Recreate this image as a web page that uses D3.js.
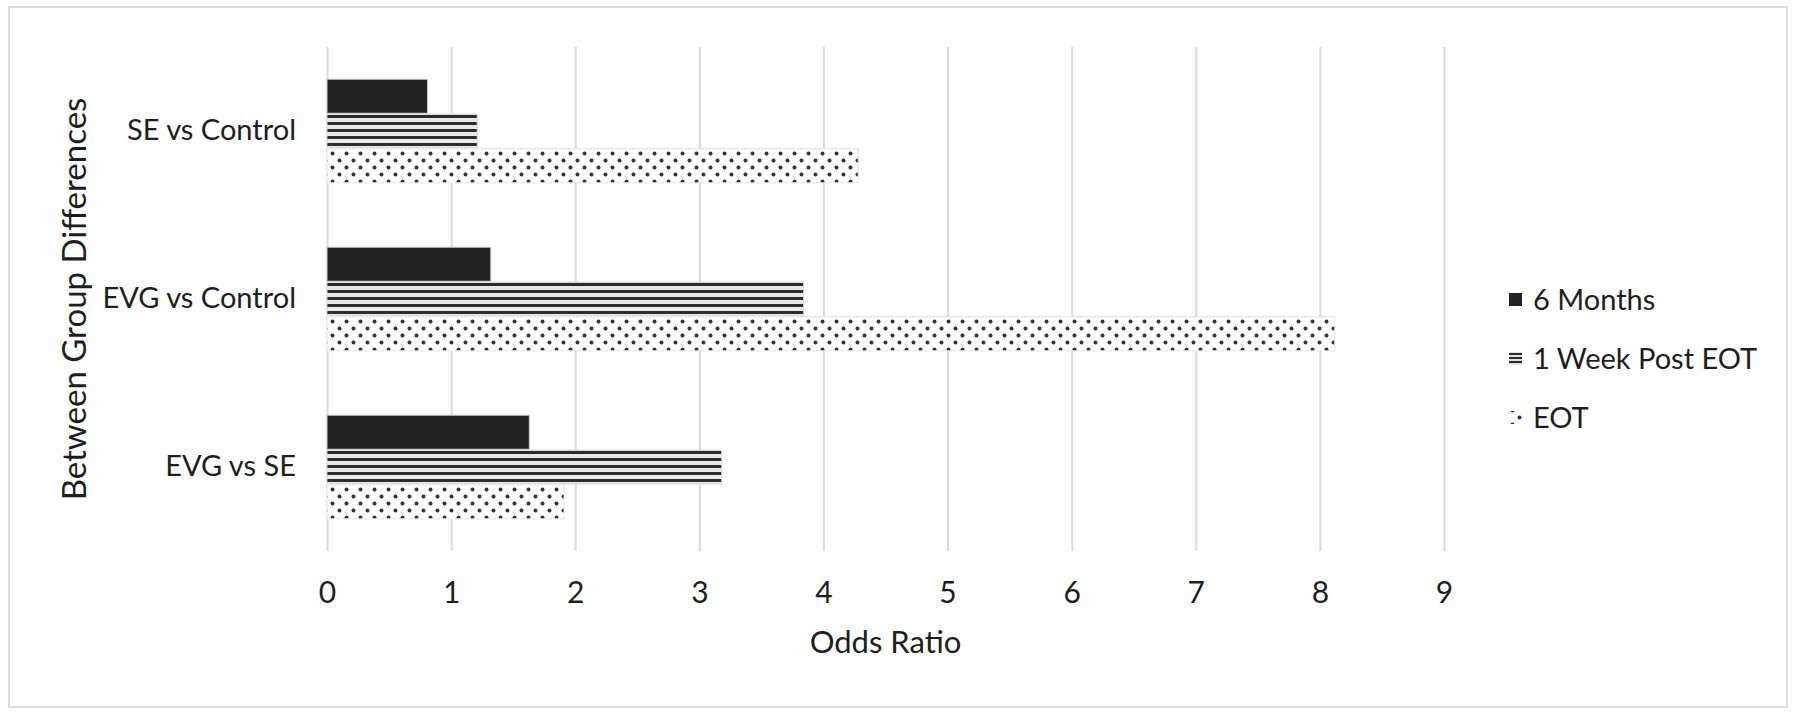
<!DOCTYPE html>
<html>
<head>
<meta charset="utf-8">
<script src="https://cdn.jsdelivr.net/npm/d3@7"></script>
<style>
  body { margin: 0; background: #fff; }
  svg text { font-family: Lato, "Open Sans", sans-serif; fill: #1e1e1e; }
</style>
</head>
<body>
<div id="chart"></div>
<script>
// values
const categories = ["SE vs Control", "EVG vs Control", "EVG vs SE"];
const seriesNames = ["6 Months", "1 Week Post EOT", "EOT"];
const sixMonths = [0.81, 1.32, 1.63];
const oneWeekPostEot = [1.21, 3.84, 3.18];
const eot = [4.28, 8.12, 1.91];
const xTicks = [0, 1, 2, 3, 4, 5, 6, 7, 8, 9];

const seriesValues = [sixMonths, oneWeekPostEot, eot];

const w = 1800, h = 714;
const plot = { left: 327, right: 1444, top: 47, bottom: 551 };
const fontSize = 29;

const svg = d3.select("#chart").append("svg")
  .attr("width", w)
  .attr("height", h);

// patterns for the series fills
const defs = svg.append("defs");
const stripes = defs.append("pattern")
  .attr("id", "stripes")
  .attr("patternUnits", "userSpaceOnUse")
  .attr("width", 8).attr("height", 7)
  .attr("y", 1);
stripes.append("rect").attr("width", 8).attr("height", 7).attr("fill", "#e8e8e8");
stripes.append("rect").attr("y", 2).attr("width", 8).attr("height", 3).attr("fill", "#2c2c2c");

const keyStripes = defs.append("pattern")
  .attr("id", "keyStripes")
  .attr("patternUnits", "userSpaceOnUse")
  .attr("width", 4).attr("height", 4)
  .attr("y", 1);
keyStripes.append("rect").attr("width", 4).attr("height", 4).attr("fill", "#e0e0e0");
keyStripes.append("rect").attr("y", 1).attr("width", 4).attr("height", 2).attr("fill", "#2c2c2c");

const dots = defs.append("pattern")
  .attr("id", "dots")
  .attr("patternUnits", "userSpaceOnUse")
  .attr("width", 14).attr("height", 14)
  .attr("y", 3);
dots.append("rect").attr("width", 14).attr("height", 14).attr("fill", "#fff");
dots.append("circle").attr("cx", 3.5).attr("cy", 3.5).attr("r", 2).attr("fill", "#333");
dots.append("circle").attr("cx", 10.5).attr("cy", 10.5).attr("r", 2).attr("fill", "#333");

const fills = ["#222222", "url(#stripes)", "url(#dots)"];
const keyFills = ["#222222", "url(#keyStripes)", "url(#dots)"];
const strokes = ["#cfcfcf", "#d6d6d6", "#e2e2e2"];

// outer frame
svg.append("rect")
  .attr("x", 9).attr("y", 7)
  .attr("width", 1778).attr("height", 700)
  .attr("fill", "none")
  .attr("stroke", "#dcdcdc")
  .attr("stroke-width", 2);

const xScale = d3.scaleLinear()
  .domain([0, 9])
  .range([plot.left, plot.right]);

const yScale = d3.scaleBand()
  .domain(categories)
  .range([plot.top, plot.bottom])
  .paddingInner(0.375)
  .paddingOuter(0.1875);

const ySub = d3.scaleBand()
  .domain(seriesNames)
  .range([0, yScale.bandwidth()])
  .padding(0.02);

// gridlines + tick labels via the axis
const xAxis = d3.axisBottom(xScale)
  .tickValues(xTicks)
  .tickSize(-(plot.bottom - plot.top))
  .tickPadding(31)
  .tickFormat(d3.format("d"));

const gx = svg.append("g")
  .attr("id", "x-axis")
  .attr("transform", "translate(0," + plot.bottom + ")")
  .call(xAxis);
gx.select(".domain").remove();
gx.selectAll(".tick line").attr("stroke", "#dadada").attr("stroke-width", 2);
gx.selectAll(".tick text")
  .attr("font-size", 30)
  .style("font-family", "Lato, 'Open Sans', sans-serif")
  .attr("fill", "#1e1e1e");

const yAxis = d3.axisLeft(yScale).tickSize(0).tickPadding(31);
const gy = svg.append("g")
  .attr("id", "y-axis")
  .attr("transform", "translate(" + plot.left + ",0)")
  .call(yAxis);
gy.select(".domain").remove();
gy.selectAll(".tick text")
  .attr("font-size", fontSize)
  .style("font-family", "Lato, 'Open Sans', sans-serif")
  .attr("fill", "#1e1e1e");

// bars
const rows = [];
categories.forEach((c, i) => {
  seriesNames.forEach((s, j) => {
    rows.push({ cat: c, series: s, idx: j, value: seriesValues[j][i] });
  });
});

svg.append("g").selectAll("rect")
  .data(rows)
  .enter()
  .append("rect")
  .attr("class", "bar")
  .attr("x", xScale(0))
  .attr("y", (d) => yScale(d.cat) + ySub(d.series))
  .attr("width", (d) => xScale(d.value) - xScale(0))
  .attr("height", ySub.bandwidth())
  .attr("fill", (d) => fills[d.idx])
  .attr("stroke", (d) => strokes[d.idx])
  .attr("stroke-width", 1);

// axis titles
svg.append("text")
  .attr("x", (plot.left + plot.right) / 2)
  .attr("y", 653)
  .attr("text-anchor", "middle")
  .attr("font-size", 31)
  .text("Odds Ratio");

svg.append("text")
  .attr("transform", "translate(86," + ((plot.top + plot.bottom) / 2) + ") rotate(-90)")
  .attr("text-anchor", "middle")
  .attr("font-size", 33)
  .text("Between Group Differences");

// legend
const legend = svg.append("g").attr("transform", "translate(1509,0)");
const legendY = [300, 359, 418];
seriesNames.forEach((s, j) => {
  const g = legend.append("g").attr("transform", "translate(0," + legendY[j] + ")");
  g.append("rect")
    .attr("x", 0).attr("y", -7)
    .attr("width", 13).attr("height", 13)
    .attr("fill", keyFills[j]);
  g.append("text")
    .attr("x", 24)
    .attr("dy", "0.35em")
    .attr("font-size", fontSize)
    .text(s);
});
</script>
</body>
</html>
